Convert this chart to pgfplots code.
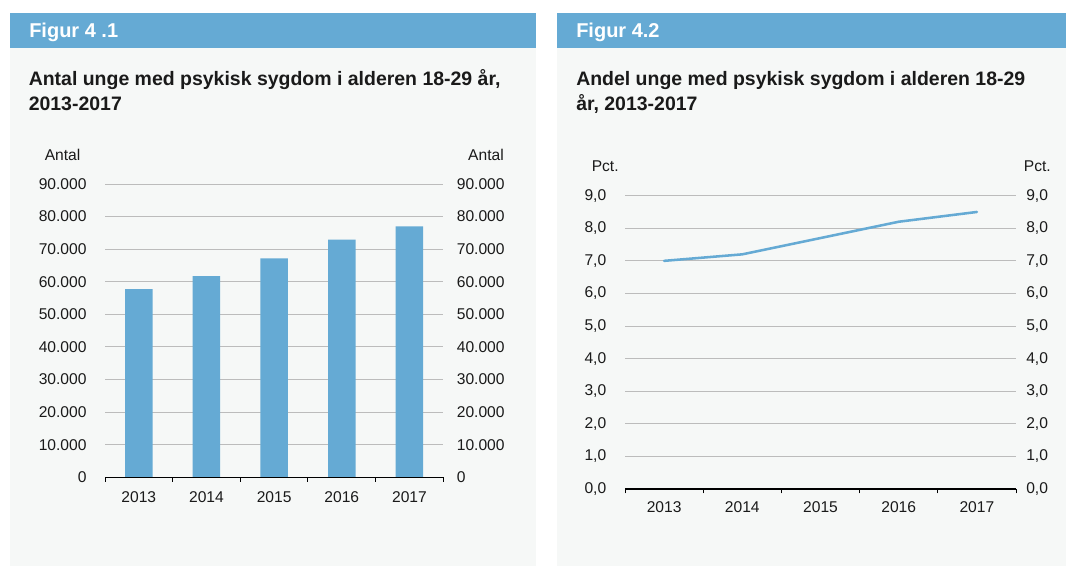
\documentclass[border=0pt]{standalone}
\usepackage{fontspec}
\setmainfont{Liberation Sans}
\usepackage{pgfplots}
\pgfplotsset{compat=1.18}
\definecolor{hdr}{RGB}{101,170,212}
\definecolor{panel}{RGB}{246,248,247}
\definecolor{barblue}{RGB}{101,170,212}
\definecolor{gridc}{RGB}{188,188,188}
\definecolor{txt}{RGB}{26,26,26}
\newcommand{\tickfont}{\fontsize{11.7}{14}\selectfont}
\newcommand{\titlefont}{\fontsize{14.6}{18}\selectfont\bfseries}
\pgfplotsset{
  common/.style={
    scale only axis,
    xmin=-0.5, xmax=4.5, ymin=0,
    axis line style={draw=none},
    tick label style={font=\tickfont, text=txt},
    /pgf/number format/assume math mode=true,
    ytick style={draw=none},
    scaled y ticks=false,
    clip=false,
  },
  leftax/.style={common,
    ytick pos=left,
    ymajorgrids, grid style={gridc, line width=0.7pt},
    xtick={-0.5,0.5,1.5,2.5,3.5,4.5},
    xticklabels={},
    xtick pos=bottom,
    tick align=outside,
    xtick style={black, line width=0.7pt},
    major tick length=3.2pt,
    extra x ticks={0,1,2,3,4},
    extra x tick labels={2013,2014,2015,2016,2017},
    extra x tick style={major tick length=0pt, tick style={draw=none}, grid=none},
  },
  rightax/.style={common,
    xtick=\empty,
    ytick pos=right,
    yticklabel pos=right,
  },
}
\begin{document}
\begin{tikzpicture}[x=0.75pt, y=0.75pt]
\fill[white] (0,0) rectangle (1066,566);
\useasboundingbox (0,0) rectangle (1066,566);
% panels
\fill[panel] (10,0) rectangle (536,518);
\fill[hdr] (10,518) rectangle (536,553);
\fill[panel] (557,0) rectangle (1066,518);
\fill[hdr] (557,518) rectangle (1066,553);
\node[anchor=base west, inner sep=0pt, text=white, font=\fontsize{15}{18}\selectfont\bfseries] at (29,528.3) {Figur 4 .1};
\node[anchor=base west, inner sep=0pt, text=white, font=\fontsize{15}{18}\selectfont\bfseries] at (576,528.3) {Figur 4.2};
\node[anchor=base west, inner sep=0pt, text=txt, font=\titlefont] at (28.5,480) {Antal unge med psykisk sygdom i alderen 18-29 år,};
\node[anchor=base west, inner sep=0pt, text=txt, font=\titlefont] at (28.5,455) {2013-2017};
\node[anchor=base west, inner sep=0pt, text=txt, font=\titlefont] at (576,480) {Andel unge med psykisk sygdom i alderen 18-29};
\node[anchor=base west, inner sep=0pt, text=txt, font=\titlefont] at (576,455) {år, 2013-2017};
% unit labels
\node[anchor=base west, inner sep=0pt, text=txt, font=\tickfont] at (44.5,405.3) {Antal};
\node[anchor=base east, inner sep=0pt, text=txt, font=\tickfont] at (504,405.3) {Antal};
\node[anchor=base west, inner sep=0pt, text=txt, font=\tickfont] at (591.5,394.3) {Pct.};
\node[anchor=base east, inner sep=0pt, text=txt, font=\tickfont] at (1051,394.3) {Pct.};

% Chart 1
\begin{axis}[leftax, at={(78.75pt,66.525pt)}, anchor=south west, width=253.7pt, height=220pt,
  ymax=90000, ytick={0,10000,...,90000},
  /pgf/number format/.cd, fixed, 1000 sep={.}, /pgfplots/.cd,
  yticklabel style={anchor=east, inner sep=0pt, xshift=-10.5pt},
  xticklabel style={anchor=base, inner sep=0pt, yshift=-19pt}]
  \addplot[ybar, bar width=20.6pt, fill=barblue, draw=none]
    coordinates {(0,57700) (1,61700) (2,67200) (3,72900) (4,77000)};
  \draw[black, line width=0.8pt] (rel axis cs:0,0) -- (rel axis cs:1,0);
\end{axis}
\begin{axis}[rightax, at={(78.75pt,66.525pt)}, anchor=south west, width=253.7pt, height=220pt,
  ymax=90000, ytick={0,10000,...,90000},
  /pgf/number format/.cd, fixed, 1000 sep={.}, /pgfplots/.cd,
  yticklabel style={anchor=west, inner sep=0pt, xshift=10pt}]
  \addplot[draw=none] coordinates {(0,0)};
\end{axis}

% Chart 2
\begin{axis}[leftax, at={(468.75pt,57.75pt)}, anchor=south west, width=293.25pt, height=220pt,
  ymax=9, ytick={0,1,...,9},
  /pgf/number format/.cd, fixed, fixed zerofill, precision=1, use comma, /pgfplots/.cd,
  yticklabel style={anchor=east, inner sep=0pt, xshift=-10.7pt},
  xticklabel style={anchor=base, inner sep=0pt, yshift=-17.8pt}]
  \addplot[barblue, line width=1.9pt, line join=round, line cap=round]
    coordinates {(0,7.0) (1,7.2) (2,7.7) (3,8.2) (4,8.5)};
  \draw[black, line width=0.8pt] (rel axis cs:0,0) -- (rel axis cs:1,0);
\end{axis}
\begin{axis}[rightax, at={(468.75pt,57.75pt)}, anchor=south west, width=293.25pt, height=220pt,
  ymax=9, ytick={0,1,...,9},
  /pgf/number format/.cd, fixed, fixed zerofill, precision=1, use comma, /pgfplots/.cd,
  yticklabel style={anchor=west, inner sep=0pt, xshift=7.5pt}]
  \addplot[draw=none] coordinates {(0,0)};
\end{axis}
\end{tikzpicture}
\end{document}
